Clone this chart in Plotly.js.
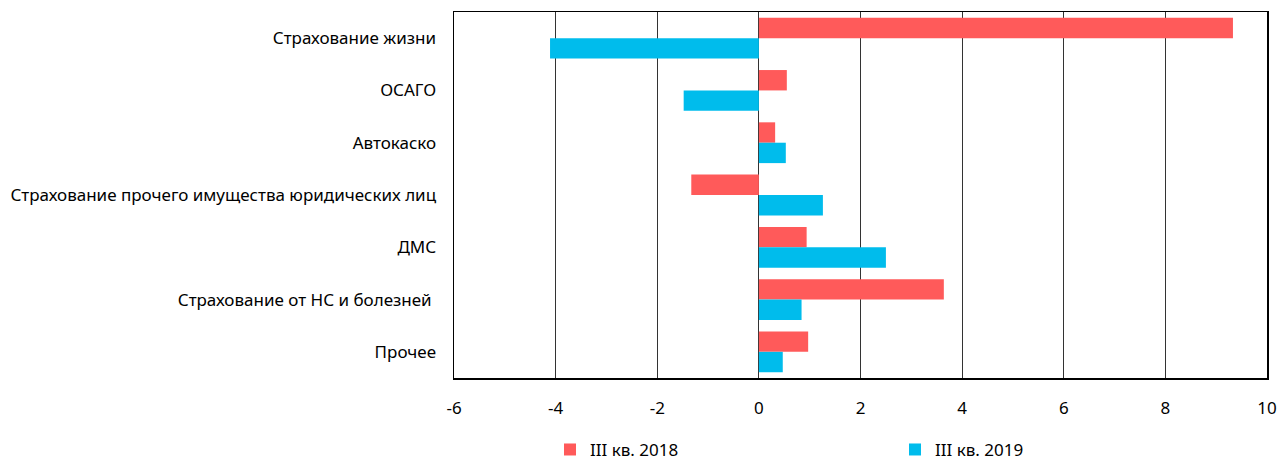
<!DOCTYPE html>
<html>
<head>
<meta charset="utf-8">
<script src="https://cdn.plot.ly/plotly-3.0.1.min.js"></script>
<style>
  html, body { margin: 0; padding: 0; background: #fff; }
  #chart { width: 1285px; height: 461px; }
</style>
</head>
<body>
<div id="chart"></div>
<script>
// Insurance lines, top to bottom
const categories = [
  'Страхование жизни',
  'ОСАГО',
  'Автокаско',
  'Страхование прочего имущества юридических лиц',
  'ДМС',
  'Страхование от НС и болезней\u00a0',
  'Прочее'
];

const seriesNames = ['III кв. 2018', 'III кв. 2019'];
const values2018 = [9.33, 0.55, 0.32, -1.33, 0.94, 3.64, 0.97];
const values2019 = [-4.11, -1.48, 0.53, 1.26, 2.50, 0.84, 0.47];

const xTicks = [-6, -4, -2, 0, 2, 4, 6, 8, 10];

const FONT = 'Noto Sans, Roboto, sans-serif';
const legendFont = { family: FONT, size: 17, color: '#000' };

const traces = [
  {
    type: 'bar', orientation: 'h', name: seriesNames[0],
    y: categories, x: values2018,
    marker: { color: '#ff5a5a' }, legend: 'legend'
  },
  {
    type: 'bar', orientation: 'h', name: seriesNames[1],
    y: categories, x: values2019,
    marker: { color: '#00bcec' }, legend: 'legend2'
  }
];

// Legends sit in the figure container, below the axis labels
const legendBase = {
  orientation: 'h', xref: 'container', yref: 'container',
  y: 0.024, yanchor: 'middle', xanchor: 'left',
  itemwidth: 30, font: legendFont, itemclick: false, itemdoubleclick: false
};

const layout = {
  width: 1285, height: 461,
  margin: { l: 454, r: 18, t: 11.5, b: 83, pad: 0 },
  paper_bgcolor: '#fff', plot_bgcolor: '#fff',
  barmode: 'group', bargap: 0.22, bargroupgap: 0,
  font: { family: FONT, size: 17, color: '#000' },
  xaxis: {
    range: [-6, 10], tickvals: xTicks, ticktext: xTicks.map(String),
    showgrid: true, gridcolor: '#333', gridwidth: 1,
    zeroline: true, zerolinecolor: '#333', zerolinewidth: 1,
    showline: true, linecolor: '#000', linewidth: 1.5, mirror: true,
    ticks: 'outside', ticklen: 14, tickcolor: 'rgba(0,0,0,0)',
    tickfont: { family: FONT, size: 17, color: '#000' },
    fixedrange: true
  },
  yaxis: {
    autorange: 'reversed', type: 'category',
    showgrid: false, zeroline: false,
    showline: true, linecolor: '#000', linewidth: 1.5, mirror: true,
    ticks: 'outside', ticklen: 13, tickcolor: 'rgba(0,0,0,0)',
    tickfont: { family: FONT, size: 17, color: '#000' },
    fixedrange: true
  },
  showlegend: true,
  legend: Object.assign({}, legendBase, { x: 0.428 }),
  legend2: Object.assign({}, legendBase, { x: 0.6965 })
};

Plotly.newPlot('chart', traces, layout, { staticPlot: true, displayModeBar: false });
</script>
</body>
</html>
